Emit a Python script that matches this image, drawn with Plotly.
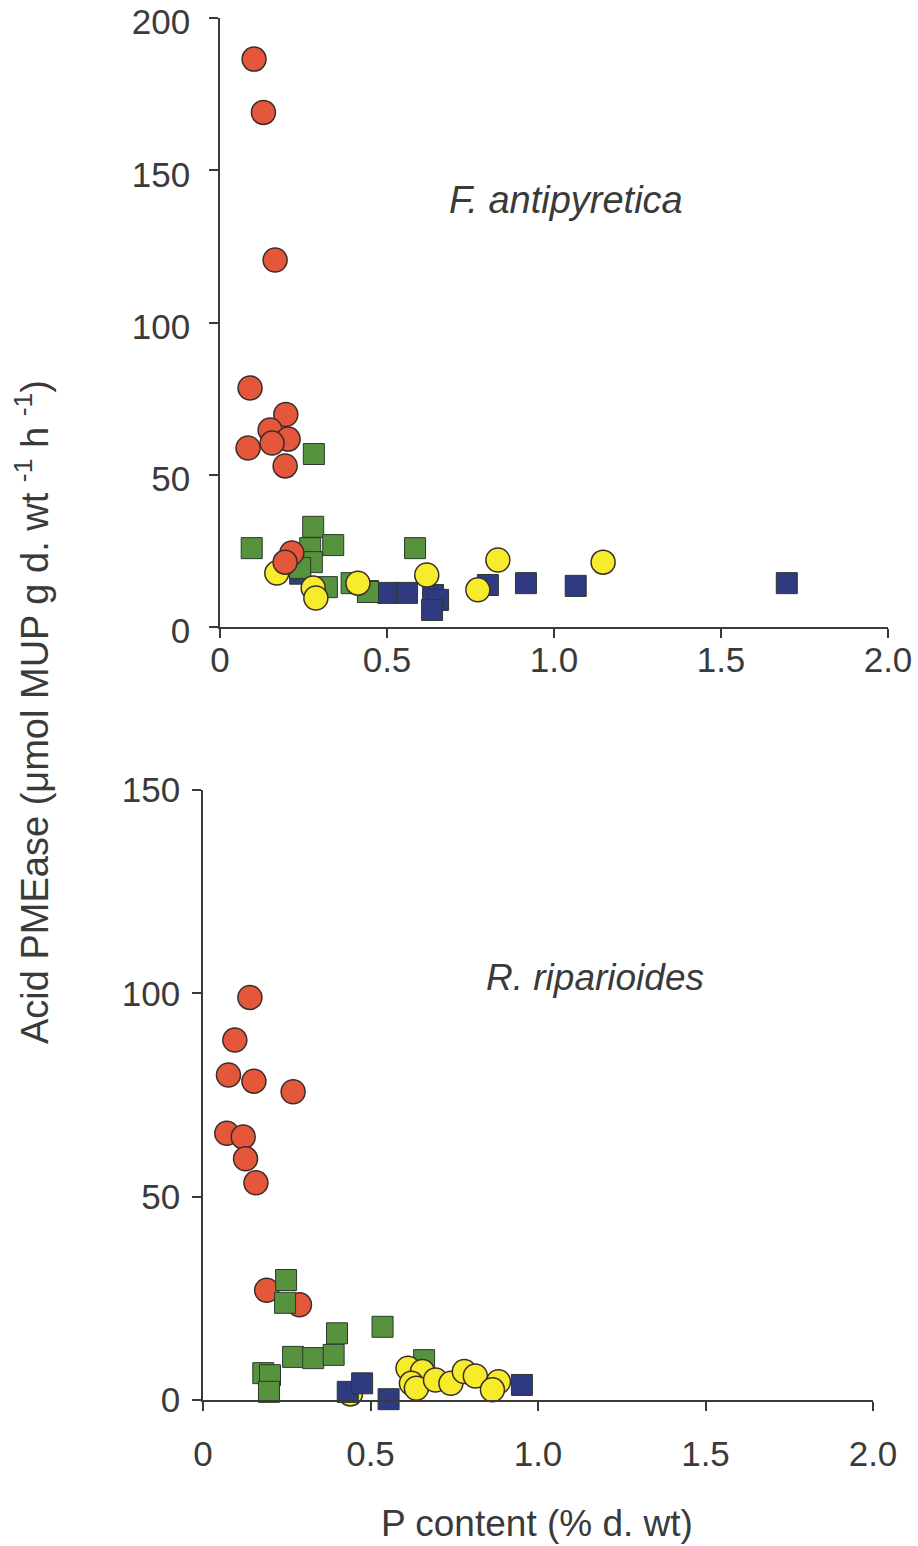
import plotly.graph_objects as go

# ---------------- data (top panel: F. antipyretica) ----------------
red_top_x = [0.102, 0.13, 0.165, 0.09, 0.197, 0.15, 0.204, 0.084, 0.156, 0.195, 0.215, 0.195]
red_top_y = [186.5, 169, 120.5, 78.5, 69.8, 64.7, 61.7, 58.8, 60.4, 52.9, 24.3, 21.3]

green_top_x = [0.281, 0.095, 0.279, 0.27, 0.339, 0.275, 0.24, 0.32, 0.394, 0.443, 0.584]
green_top_y = [56.8, 25.9, 32.9, 25.9, 26.9, 21.3, 19.4, 13.1, 14.4, 11.5, 25.9]

yellow_top_x = [0.17, 0.279, 0.287, 0.413, 0.619, 0.772, 0.832, 1.147]
yellow_top_y = [17.7, 12.8, 9.5, 14.4, 17.1, 12.2, 22.0, 21.3]

blue_top_x = [0.24, 0.443, 0.503, 0.56, 0.638, 0.653, 0.635, 0.802, 0.916, 1.065, 1.697]
blue_top_y = [17.5, 11.8, 11.2, 11.2, 10.5, 8.9, 5.6, 13.8, 14.4, 13.5, 14.4]

# ---------------- data (bottom panel: R. riparioides) ----------------
red_bot_x = [0.14, 0.095, 0.076, 0.152, 0.269, 0.071, 0.12, 0.127, 0.158, 0.19, 0.288]
red_bot_y = [99, 88.5, 79.9, 78.4, 75.8, 65.6, 64.7, 59.3, 53.4, 27, 23.4]

green_bot_x = [0.248, 0.245, 0.18, 0.2, 0.197, 0.269, 0.329, 0.39, 0.4, 0.536, 0.66]
green_bot_y = [29.5, 23.9, 6.6, 6.1, 2.0, 10.6, 10.3, 11.1, 16.4, 18.0, 9.8]

yellow_bot_x = [0.44, 0.612, 0.655, 0.622, 0.637, 0.694, 0.74, 0.78, 0.813, 0.882, 0.864]
yellow_bot_y = [1.5, 7.8, 7.0, 4.1, 2.9, 4.9, 4.1, 7.0, 5.9, 4.5, 2.5]

blue_bot_x = [0.432, 0.475, 0.554, 0.952]
blue_bot_y = [2.0, 4.1, 0.2, 3.7]

x_ticks = [0, 0.5, 1.0, 1.5, 2.0]
x_tick_labels = ["0", "0.5", "1.0", "1.5", "2.0"]
y_top_ticks = [0, 50, 100, 150, 200]
y_bot_ticks = [0, 50, 100, 150]

# ---------------- styles ----------------
RED = "#E5573B"
GREEN = "#57923F"
YELLOW = "#F6EC2C"
BLUE = "#2F3A80"
EDGE = "#3b2e2a"
FONT = "Liberation Sans, Arial, sans-serif"
AX = "#3a3a3a"
TXT = "#3a3a3a"


def circle(x, y, color, xa, ya):
    return go.Scatter(x=x, y=y, mode="markers", xaxis=xa, yaxis=ya, showlegend=False,
                      cliponaxis=False,
                      marker=dict(symbol="circle", size=24, color=color,
                                  line=dict(color=EDGE, width=1.5)))


def square(x, y, color, xa, ya):
    return go.Scatter(x=x, y=y, mode="markers", xaxis=xa, yaxis=ya, showlegend=False,
                      cliponaxis=False,
                      marker=dict(symbol="square", size=21, color=color,
                                  line=dict(color="#2a3a2a", width=1)))


fig = go.Figure()
# top panel order
fig.add_trace(square(blue_top_x, blue_top_y, BLUE, "x", "y"))
fig.add_trace(square(green_top_x, green_top_y, GREEN, "x", "y"))
fig.add_trace(circle(yellow_top_x, yellow_top_y, YELLOW, "x", "y"))
fig.add_trace(circle(red_top_x, red_top_y, RED, "x", "y"))
# bottom panel order
fig.add_trace(circle(red_bot_x, red_bot_y, RED, "x2", "y2"))
fig.add_trace(square(green_bot_x, green_bot_y, GREEN, "x2", "y2"))
fig.add_trace(circle(yellow_bot_x, yellow_bot_y, YELLOW, "x2", "y2"))
fig.add_trace(square(blue_bot_x, blue_bot_y, BLUE, "x2", "y2"))

W, H = 918, 1546

axis_common = dict(showline=True, linecolor=AX, linewidth=1.5, ticks="outside",
                   ticklen=9, tickwidth=1.5, tickcolor=AX, showgrid=False, zeroline=False,
                   automargin=False, ticklabeloverflow="allow",
                   tickfont=dict(family=FONT, size=35, color=TXT))

fig.update_layout(
    width=W, height=H,
    margin=dict(l=0, r=0, t=0, b=0, pad=0, autoexpand=False),
    paper_bgcolor="white", plot_bgcolor="white",
    xaxis=dict(domain=[220 / W, 888 / W], range=[0, 2.0], anchor="y",
               tickvals=x_ticks, ticktext=x_tick_labels, ticklabelstandoff=-8, **axis_common),
    yaxis=dict(domain=[1 - 627 / H, 1 - 18 / H], range=[0, 200], anchor="x",
               tickvals=y_top_ticks, ticklabelstandoff=12, ticklabelshift=4, **axis_common),
    xaxis2=dict(domain=[203 / W, 873 / W], range=[0, 2.0], anchor="y2",
                tickvals=x_ticks, ticktext=x_tick_labels, ticklabelstandoff=13, **axis_common),
    yaxis2=dict(domain=[1 - 1400 / H, 1 - 790 / H], range=[0, 150], anchor="x2",
                tickvals=y_bot_ticks, ticklabelstandoff=5, **axis_common),
)

fig.add_annotation(text="<i>F. antipyretica</i>", xref="paper", yref="paper",
                   x=566 / W, y=1 - 200 / H, xanchor="center", yanchor="middle",
                   showarrow=False, font=dict(family=FONT, size=38, color=TXT))
fig.add_annotation(text="<i>R. riparioides</i>", xref="paper", yref="paper",
                   x=595 / W, y=1 - 977 / H, xanchor="center", yanchor="middle",
                   showarrow=False, font=dict(family=FONT, size=37, color=TXT))
fig.add_annotation(text="P content (% d. wt)", xref="paper", yref="paper",
                   x=537 / W, y=1 - 1523 / H, xanchor="center", yanchor="middle",
                   showarrow=False, font=dict(family=FONT, size=37, color=TXT))
fig.add_annotation(text="Acid PMEase (\u03bcmol MUP g d. wt <sup>-1</sup> h <sup>-1</sup>)",
                   xref="paper", yref="paper", textangle=-90,
                   x=32 / W, y=1 - 712 / H, xanchor="center", yanchor="middle",
                   showarrow=False, font=dict(family=FONT, size=38, color=TXT))

fig.write_html("out.html")
